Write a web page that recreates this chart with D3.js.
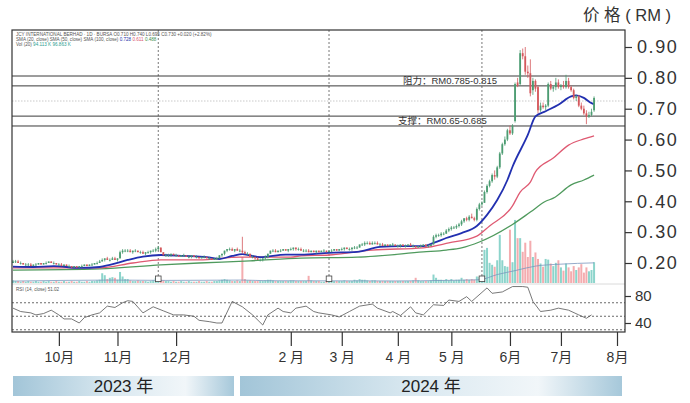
<!DOCTYPE html>
<html><head><meta charset="utf-8">
<script src="https://cdn.jsdelivr.net/npm/d3@7"></script>
<style>
html,body{margin:0;padding:0;background:#fff;}
svg{display:block;}
text{font-family:"Liberation Sans","Noto Sans CJK SC",Arial,sans-serif;}
</style></head><body>
<svg id="c" width="690" height="403"></svg>
<script>
// ---------- DATA ----------
// daily candles [open, high, low, close], trading-day index 0..228
const candles = [
[.200,.210,.200,.205],[.205,.210,.200,.205],[.205,.210,.200,.200],[.200,.205,.195,.200],[.200,.200,.195,.195],[.195,.200,.190,.195],[.195,.200,.190,.195],[.195,.200,.190,.190],[.190,.195,.190,.195],[.195,.200,.190,.195],
[.195,.200,.195,.200],[.200,.200,.195,.195],[.195,.200,.195,.200],[.200,.205,.195,.200],[.200,.205,.200,.205],[.205,.205,.200,.200],[.200,.205,.195,.200],[.200,.200,.195,.195],[.195,.200,.190,.195],[.195,.200,.190,.190],
[.190,.195,.190,.195],[.195,.195,.190,.190],[.190,.195,.185,.190],[.190,.190,.185,.185],[.185,.190,.185,.190],[.190,.190,.185,.185],[.185,.190,.185,.190],[.190,.195,.185,.190],[.190,.195,.190,.195],[.195,.195,.190,.190],
[.190,.195,.190,.195],[.195,.200,.190,.195],[.195,.200,.195,.200],[.200,.205,.195,.200],[.200,.210,.200,.205],[.205,.215,.205,.210],[.210,.215,.205,.215],[.215,.220,.210,.210],[.210,.215,.205,.210],[.210,.220,.210,.215],
[.215,.220,.210,.210],[.210,.215,.205,.215],[.215,.240,.215,.235],[.235,.245,.230,.240],[.240,.245,.235,.240],[.240,.245,.235,.240],[.240,.245,.235,.235],[.235,.240,.230,.240],[.240,.245,.235,.240],[.240,.240,.235,.235],
[.235,.240,.230,.235],[.235,.240,.230,.230],[.230,.235,.225,.235],[.235,.240,.230,.235],[.235,.240,.230,.240],[.240,.245,.235,.240],[.240,.250,.235,.245],[.245,.255,.240,.250],[.250,.250,.235,.235],[.235,.235,.225,.225],
[.225,.230,.220,.225],[.225,.230,.220,.225],[.225,.230,.220,.230],[.230,.230,.225,.225],[.225,.230,.220,.225],[.225,.225,.220,.220],[.220,.225,.220,.225],[.225,.230,.220,.225],[.225,.225,.220,.220],[.220,.225,.215,.220],
[.220,.225,.215,.225],[.225,.225,.220,.220],[.220,.225,.215,.220],[.220,.220,.215,.215],[.215,.220,.215,.220],[.220,.225,.215,.220],[.220,.220,.215,.215],[.215,.220,.210,.215],[.215,.215,.210,.210],[.210,.215,.210,.215],
[.215,.220,.210,.215],[.215,.225,.215,.225],[.225,.230,.220,.230],[.230,.240,.225,.240],[.240,.245,.235,.245],[.245,.250,.240,.245],[.245,.250,.240,.240],[.240,.245,.235,.245],[.245,.250,.240,.240],[.240,.245,.235,.240],
[.240,.285,.230,.235],[.235,.240,.230,.230],[.230,.235,.225,.230],[.230,.230,.220,.220],[.220,.225,.215,.220],[.220,.220,.210,.215],[.215,.220,.210,.210],[.210,.215,.205,.210],[.210,.215,.205,.215],[.215,.225,.210,.220],
[.220,.230,.215,.230],[.230,.240,.230,.240],[.240,.245,.235,.240],[.240,.245,.235,.235],[.235,.240,.235,.240],[.240,.245,.235,.240],[.240,.245,.240,.245],[.245,.245,.240,.240],[.240,.245,.235,.245],[.245,.250,.240,.245],
[.245,.250,.240,.250],[.250,.250,.240,.245],[.245,.250,.240,.245],[.245,.250,.240,.240],[.240,.245,.235,.240],[.240,.245,.235,.240],[.240,.245,.235,.235],[.235,.240,.235,.240],[.240,.240,.235,.235],[.235,.240,.230,.240],
[.240,.240,.235,.235],[.235,.240,.235,.240],[.240,.245,.235,.240],[.240,.240,.235,.235],[.235,.240,.235,.240],[.240,.245,.235,.240],[.240,.245,.240,.245],[.245,.245,.240,.240],[.240,.245,.240,.245],[.245,.250,.240,.245],
[.245,.250,.240,.250],[.250,.250,.245,.245],[.245,.250,.240,.245],[.245,.250,.240,.250],[.250,.255,.245,.250],[.250,.255,.245,.250],[.250,.260,.250,.260],[.260,.265,.255,.260],[.260,.270,.255,.265],[.265,.270,.260,.265],
[.265,.270,.260,.260],[.260,.270,.260,.265],[.265,.270,.260,.265],[.265,.270,.260,.260],[.260,.265,.255,.260],[.260,.265,.255,.255],[.255,.260,.255,.260],[.260,.260,.255,.255],[.255,.260,.255,.260],[.260,.265,.255,.260],
[.260,.260,.255,.255],[.255,.260,.250,.255],[.255,.260,.250,.260],[.260,.260,.255,.255],[.255,.260,.250,.255],[.255,.260,.255,.260],[.260,.265,.255,.255],[.255,.260,.250,.255],[.255,.255,.250,.250],[.250,.255,.250,.255],
[.255,.260,.250,.255],[.255,.260,.255,.260],[.260,.260,.250,.255],[.255,.260,.250,.255],[.255,.260,.255,.260],[.260,.290,.260,.285],[.285,.295,.280,.290],[.290,.295,.285,.290],[.290,.300,.285,.295],[.295,.300,.290,.295],
[.295,.310,.295,.305],[.305,.315,.300,.310],[.310,.320,.305,.315],[.315,.320,.310,.315],[.315,.325,.310,.320],[.320,.330,.315,.325],[.325,.340,.320,.335],[.335,.345,.330,.345],[.345,.350,.335,.340],[.340,.355,.335,.350],
[.350,.360,.345,.345],[.345,.350,.335,.340],[.340,.380,.335,.375],[.375,.395,.370,.390],[.390,.400,.385,.395],[.395,.435,.395,.430],[.430,.455,.425,.450],[.450,.470,.445,.465],[.465,.490,.460,.485],[.485,.500,.470,.480],
[.480,.515,.475,.510],[.510,.560,.505,.555],[.555,.590,.550,.585],[.585,.610,.580,.600],[.600,.635,.595,.630],[.630,.645,.615,.620],[.620,.650,.615,.645],[.660,.785,.655,.780],[.785,.800,.770,.775],[.780,.890,.775,.880],
[.880,.895,.860,.870],[.870,.900,.810,.820],[.820,.840,.800,.815],[.815,.860,.740,.750],[.760,.800,.745,.790],[.790,.795,.755,.765],[.770,.775,.685,.695],[.695,.720,.690,.710],[.710,.720,.700,.705],[.705,.715,.695,.710],
[.710,.785,.705,.780],[.780,.790,.760,.765],[.765,.775,.755,.770],[.770,.800,.760,.785],[.785,.795,.765,.770],[.770,.780,.760,.775],[.775,.790,.765,.770],[.770,.810,.765,.790],[.790,.800,.765,.770],[.770,.775,.755,.760],
[.760,.765,.730,.735],[.735,.745,.725,.740],[.740,.745,.705,.710],[.710,.720,.695,.700],[.700,.710,.680,.685],[.685,.695,.650,.675],[.675,.690,.670,.680],[.680,.700,.675,.690],[.695,.740,.690,.735]
];
// daily volume (million shares), same index
const volumes = [
0.4,0.3,0.3,0.2,0.3,0.2,0.3,0.2,0.2,0.3,0.2,0.2,0.3,0.2,0.3,0.2,0.2,0.3,0.2,0.2,0.3,0.2,0.2,0.3,0.2,0.2,0.3,0.2,0.2,0.3,0.2,0.3,0.3,0.4,0.5,
1.5,1.2,0.6,0.8,0.9,0.8,0.5,1.7,1.0,0.6,
0.6,0.4,0.3,0.3,0.4,0.3,0.3,0.3,0.2,0.3,0.4,0.8,0.9,0.5,
0.4,0.3,0.3,0.2,0.3,0.2,0.2,0.3,0.2,0.2,0.3,0.2,0.2,0.2,0.3,0.2,0.2,0.3,0.2,0.2,0.3,0.3,
0.4,0.5,0.6,0.5,0.4,0.3,0.3,0.4,0.3,4.0,
0.6,0.4,0.4,0.3,0.3,0.3,0.3,0.3,0.4,0.5,
0.5,0.4,0.3,0.3,0.3,0.3,0.3,0.3,0.4,0.4,0.3,0.3,0.3,0.3,0.3,
1.1,0.4,0.3,0.3,0.3,0.2,0.2,0.3,0.3,0.3,0.3,0.3,0.3,0.3,0.4,0.3,0.3,0.3,0.5,0.4,
0.6,0.5,0.5,0.4,0.3,0.4,0.4,0.3,0.3,0.3,
0.3,0.3,0.3,0.3,0.3,0.3,0.3,0.3,0.3,0.3,0.3,0.4,0.8,0.4,0.3,0.3,0.3,0.3,0.4,
1.3,0.8,0.5,0.5,0.4,0.6,0.4,0.6,0.4,0.5,0.5,0.8,0.5,0.6,0.5,0.6,0.5,1.0,0.9,0.9,
5.1,5.4,3.1,2.8,2.5,3.5,7.4,3.5,2.6,2.5,8.2,3.2,9.7,6.9,6.9,4.8,6.2,4.0,6.5,4.0,
4.7,3.7,3.0,2.5,3.7,3.6,3.0,2.6,3.1,3.5,2.4,1.9,3.0,2.4,1.8,2.6,2.0,2.4,2.9,1.6,
2.4,1.8,2.0,3.2
];
// moving averages: [day index, value]
const ma20 = [[0,.188],[8,.187],[16,.190],[26,.184],[34,.187],[38,.194],[45,.210],[51,.221],[58,.226],[67,.223],[76,.219],[81,.213],[86,.223],[90,.229],[97,.219],[107,.227],[113,.227],[124,.233],[135,.236],[144,.252],[152,.255],[161,.255],[165,.265],[170,.281],[176,.297],[182,.320],[186,.356],[190,.404],[194,.469],[196,.512],[202,.615],[205,.675],[209,.692],[214,.713],[219,.740],[221,.743],[224,.735],[227,.718],[228,.715]];
const ma50 = [[0,.184],[34,.184],[47,.200],[58,.210],[73,.210],[89,.219],[100,.219],[109,.219],[113,.223],[124,.226],[141,.242],[161,.249],[171,.265],[182,.287],[187,.320],[196,.385],[199,.430],[203,.462],[205,.495],[212,.540],[218,.582],[224,.602],[228,.612]];
const ma100 = [[0,.177],[34,.181],[58,.194],[73,.200],[93,.207],[113,.216],[135,.219],[161,.236],[170,.242],[176,.249],[183,.268],[196,.325],[203,.365],[209,.400],[212,.410],[219,.453],[224,.469],[228,.485]];
const volMA = [[0,.3],[40,.45],[60,.4],[90,.45],[100,.35],[150,.32],[170,.4],[183,.5],[190,1.3],[197,1.9],[205,2.6],[215,2.9],[228,3.1]];
// RSI(14): [day index, value]
const rsi = [[0,62],[3,57],[7,55],[9,52],[12,54],[15,59],[18,52],[20,46],[23,46],[26,40],[28,48],[31,52],[34,55],[37,65],[40,63],[43,70],[45,73],[47,72],[51,55],[55,64],[59,58],[63,52],[67,52],[71,50],[73,44],[77,42],[80,40],[82,40],[86,72],[90,64],[94,52],[98,37],[100,52],[104,62],[106,57],[109,55],[111,62],[115,65],[118,57],[120,55],[125,52],[128,49],[131,55],[132,57],[136,65],[141,68],[143,62],[148,55],[149,57],[152,51],[156,64],[158,55],[161,52],[165,67],[169,66],[171,74],[175,72],[178,79],[180,72],[186,92],[188,84],[192,86],[196,94],[200,94],[202,93],[204,72],[207,57],[211,59],[214,62],[218,59],[222,52],[225,47],[227,52]];
const priceTicks = [0.20,0.30,0.40,0.50,0.60,0.70,0.80,0.90];
const rsiTicks = [40,80];
const rsiGuides = [30,50,70];
const monthTicks = [18,41,64,109,129,151,172,195,215,237];
const monthLabels = ["10月","11月","12月","2 月","3 月","4 月","5 月","6月","7月","8月"];
const resistance = [0.806,0.774];
const support = [0.676,0.644];
const lastPrice = 0.725;
const eventDays = [57,124,184];
const levelLabels = ["阻力：RM0.785-0.815","支撑：RM0.65-0.685"];
const yearLabels = ["2023 年","2024 年"];

// ---------- LAYOUT ----------
const L=12, R=625, T=30, B=332, SEP=284;
const svg = d3.select("#c");
const x = d3.scaleLinear().domain([0,237]).range([13,617]);
const y = d3.scaleLinear().domain([0.2,0.9]).range([263,47]);
const yv = d3.scaleLinear().domain([0,10]).range([283,218]);
const yr = d3.scaleLinear().domain([40,80]).range([323,296]);

const defs = svg.append("defs");
defs.append("clipPath").attr("id","mainClip").append("rect").attr("x",L).attr("y",T).attr("width",R-L).attr("height",SEP-T);
defs.append("clipPath").attr("id","rsiClip").append("rect").attr("x",L).attr("y",SEP).attr("width",R-L).attr("height",B-SEP);
const grad = defs.append("linearGradient").attr("id","yg").attr("x1","0%").attr("x2","100%");
[["0%","#a2c5d8"],["45%","#d9e8f0"],["78%","#f1f6f9"],["100%","#a6c8da"]].forEach(s=>grad.append("stop").attr("offset",s[0]).attr("stop-color",s[1]));

// header
svg.append("text").attr("x",583).attr("y",21).attr("font-size",16.5).attr("fill","#333").text("价 格 ( RM )");

const main = svg.append("g").attr("clip-path","url(#mainClip)");

// legend text (tiny)
const lg = svg.append("g").attr("font-size",4.6);
lg.append("text").attr("x",16).attr("y",35.8).attr("fill","#555").text("JCY INTERNATIONAL BERHAD · 1D · BURSA   O0.710  H0.740  L0.695  C0.730  +0.020 (+2.82%)");
const l2 = lg.append("text").attr("x",16).attr("y",41.3).attr("fill","#555");
l2.append("tspan").text("SMA (20, close) SMA (50, close) SMA (100, close)  ");
l2.append("tspan").attr("fill","#2233aa").text("0.728 ");
l2.append("tspan").attr("fill","#d9536f").text("0.611 ");
l2.append("tspan").attr("fill","#3d8f4f").text("0.488");
const l3 = lg.append("text").attr("x",16).attr("y",45.8).attr("fill","#555");
l3.append("tspan").text("Vol (20)  ");
l3.append("tspan").attr("fill","#2a9d8f").text("94.113 K  96.863 K");

// event vertical dotted lines
main.selectAll("line.ev").data(eventDays).join("line")
  .attr("x1",d=>x(d)).attr("x2",d=>x(d)).attr("y1",T).attr("y2",SEP-4)
  .attr("stroke","#555").attr("stroke-width",0.8).attr("stroke-dasharray","2,2");

// level lines
main.selectAll("line.lv").data(resistance.concat(support)).join("line")
  .attr("x1",L).attr("x2",R).attr("y1",d=>y(d)).attr("y2",d=>y(d))
  .attr("stroke","#3a3a3a").attr("stroke-width",1);
main.append("line").attr("x1",L).attr("x2",R).attr("y1",y(lastPrice)).attr("y2",y(lastPrice))
  .attr("stroke","#bbb").attr("stroke-width",0.8).attr("stroke-dasharray","1.5,1.5");

// level labels
svg.append("text").attr("x",403).attr("y",y((resistance[0]+resistance[1])/2)+3.4).attr("font-size",9.5).attr("fill","#333").text(levelLabels[0]);
svg.append("text").attr("x",398).attr("y",y((support[0]+support[1])/2)+3.4).attr("font-size",9.5).attr("fill","#333").text(levelLabels[1]);

// volume bars
const upV="#7fcfc5", dnV="#f3a3a6";
main.selectAll("rect.vol").data(volumes.slice(0,candles.length)).join("rect")
  .attr("x",(d,i)=>x(i)-1).attr("width",2)
  .attr("y",d=>yv(d)).attr("height",d=>yv(0)-yv(d))
  .attr("fill",(d,i)=>candles[i][3]>=candles[i][0]?upV:dnV).attr("opacity",0.9);
main.append("path").datum(volMA)
  .attr("d",d3.line().x(d=>x(d[0])).y(d=>yv(d[1])).curve(d3.curveMonotoneX))
  .attr("fill","none").attr("stroke","#7a96bd").attr("stroke-width",0.8);

// moving averages
const ln = d3.line().x(d=>x(d[0])).y(d=>y(d[1])).curve(d3.curveMonotoneX);
main.append("path").datum(ma100).attr("d",ln).attr("fill","none").attr("stroke","#4f9a5d").attr("stroke-width",1.3);
main.append("path").datum(ma50).attr("d",ln).attr("fill","none").attr("stroke","#df5a72").attr("stroke-width",1.3);
main.append("path").datum(ma20).attr("d",ln).attr("fill","none").attr("stroke","#2230b0").attr("stroke-width",1.8);

// candles
const upC="#4c9c72", dnC="#d4585c";
const cg = main.append("g");
cg.selectAll("line.wick").data(candles).join("line")
  .attr("x1",(d,i)=>x(i)).attr("x2",(d,i)=>x(i)).attr("y1",d=>y(d[1])).attr("y2",d=>y(d[2]))
  .attr("stroke",d=>d[3]>=d[0]?upC:dnC).attr("stroke-width",0.8);
cg.selectAll("rect.body").data(candles).join("rect")
  .attr("x",(d,i)=>x(i)-0.9).attr("width",1.8)
  .attr("y",d=>y(Math.max(d[0],d[3])))
  .attr("height",d=>Math.max(0.8,Math.abs(y(d[0])-y(d[3]))))
  .attr("fill",d=>d[3]>=d[0]?upC:dnC);

// event markers
main.selectAll("rect.mk").data(eventDays).join("rect")
  .attr("x",d=>x(d)-2.8).attr("y",276).attr("width",5.6).attr("height",5.6)
  .attr("fill","#fff").attr("stroke","#444").attr("stroke-width",0.8);

// panel separator
svg.append("line").attr("x1",L).attr("x2",R).attr("y1",SEP).attr("y2",SEP).attr("stroke","#d0d0d0").attr("stroke-width",0.8);

// RSI panel
const rg = svg.append("g").attr("clip-path","url(#rsiClip)");
rg.selectAll("line.g").data(rsiGuides).join("line")
  .attr("x1",L).attr("x2",R).attr("y1",d=>yr(d)).attr("y2",d=>yr(d))
  .attr("stroke","#444").attr("stroke-width",0.8).attr("stroke-dasharray","2,2");
rg.append("path").datum(rsi).attr("d",d3.line().x(d=>x(d[0])).y(d=>yr(d[1])))
  .attr("fill","none").attr("stroke","#555").attr("stroke-width",0.8);
svg.append("text").attr("x",16).attr("y",291).attr("font-size",4.6).attr("fill","#555").text("RSI (14, close)  51.02");

// frame
svg.append("rect").attr("x",L).attr("y",T).attr("width",R-L).attr("height",B-T)
  .attr("fill","none").attr("stroke","#333").attr("stroke-width",1.2);

// right price axis
const ax = svg.append("g").attr("transform",`translate(${R},0)`)
  .call(d3.axisRight(y).tickValues(priceTicks).tickFormat(d3.format(".2f")).tickSize(7).tickPadding(5));
ax.select(".domain").remove();
ax.selectAll("line").attr("stroke","#333").attr("stroke-width",1.2);
ax.selectAll("text").attr("font-size",18).attr("fill","#333").attr("letter-spacing","1.6px")
  .attr("font-family","'Liberation Sans',Arial,sans-serif");

const ar = svg.append("g").attr("transform",`translate(${R},0)`)
  .call(d3.axisRight(yr).tickValues(rsiTicks).tickSize(6).tickPadding(4));
ar.select(".domain").remove();
ar.selectAll("line").attr("stroke","#333").attr("stroke-width",1.2);
ar.selectAll("text").attr("font-size",15).attr("fill","#333").attr("font-family","'Liberation Sans',Arial,sans-serif");

// bottom month axis
const bx = svg.append("g").attr("transform",`translate(0,${B})`)
  .call(d3.axisBottom(x).tickValues(monthTicks).tickFormat((d,i)=>monthLabels[i]).tickSize(14).tickPadding(6));
bx.select(".domain").remove();
bx.selectAll("line").attr("stroke","#333").attr("stroke-width",1.2);
bx.selectAll("text").attr("font-size",14).attr("fill","#333")
  .attr("font-family","'Liberation Sans','Noto Sans CJK SC',sans-serif");

// year bands
const bands = [[13,234],[240,622]];
bands.forEach((b,i)=>{
  svg.append("rect").attr("x",b[0]).attr("y",376).attr("width",b[1]-b[0]).attr("height",20).attr("fill","url(#yg)");
  svg.append("text").attr("x",(b[0]+b[1])/2).attr("y",392).attr("text-anchor","middle")
    .attr("font-size",17).attr("fill","#222").text(yearLabels[i]);
});
</script>
</body></html>
